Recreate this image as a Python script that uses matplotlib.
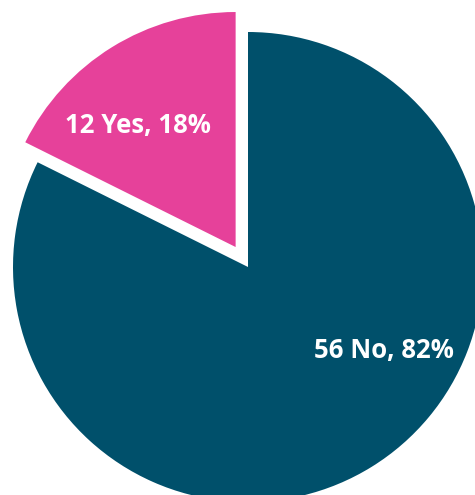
import matplotlib.pyplot as plt

answers = ['No', 'Yes']
counts = [56, 12]
colors = ['#00506B', '#E6419A']

total = sum(counts)
labels = ['%d %s, %d%%' % (c, a, round(100 * c / total)) for a, c in zip(answers, counts)]

fig = plt.figure(figsize=(4.75, 4.95), dpi=100)
ax = fig.add_axes([0, 0, 1, 1])

ax.pie(counts, colors=colors, startangle=90, counterclock=False,
       explode=[0, 0.1], radius=1, wedgeprops={'linewidth': 0})

# label spots inside each slice
label_pos = [(0.577, -0.355), (-0.468, 0.604)]
for (x, y), txt in zip(label_pos, labels):
    ax.text(x, y, txt, ha='center', va='center', color='white',
            fontsize=18.5, fontweight='bold', family='Open Sans')

scale = 235.0
ax.set_xlim(-248 / scale, (475 - 248) / scale)
ax.set_ylim(-(495 - 267) / scale, 267 / scale)
ax.set_aspect('auto')
ax.axis('off')

fig.savefig('out.png', dpi=100)
